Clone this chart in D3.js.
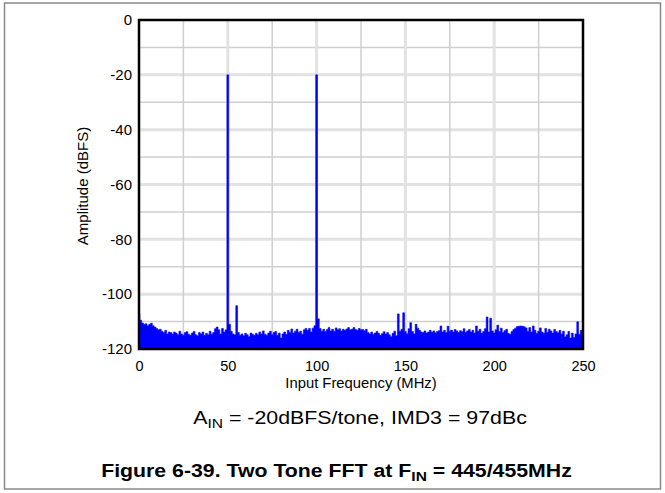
<!DOCTYPE html>
<html>
<head>
<meta charset="utf-8">
<script src="https://cdn.jsdelivr.net/npm/d3@7"></script>
<style>
  html, body { margin: 0; padding: 0; background: #fff; }
  svg { display: block; font-family: "Liberation Sans", Arial, sans-serif; }
</style>
</head>
<body>
<svg id="chart" width="665" height="493"></svg>
<script>
// ---- data ----
const binStartMHz = 0;
const binWidthMHz = 1;
const amplitudeDBFS = [
  -107, -109.5, -110.5, -111, -110.8, -111.5, -111, -110.6, -111.5, -112,
  -112.5, -113, -112.8, -113.5, -114, -113.2, -114.5, -113.8, -114, -114.5,
  -113.8, -114.2, -114.8, -113.5, -114.5, -115, -114, -113.7, -114.6, -115,
  -114.2, -113.6, -114.8, -115.2, -114, -114.5, -113.8, -115, -114.3, -114.8,
  -113.5, -114.6, -114, -112.6, -112, -113, -114.5, -112.5, -113.8, -113,
  -20,
  -111, -113.5, -114.5, -114.8, -104.2, -114, -115, -114.5, -115.2,
  -114.3, -114.8, -115.5, -114.2, -114.6, -115, -114.3, -114.8, -113.8, -114.5,
  -113.4, -114.6, -115, -114.2, -113.5, -114.8, -114, -113.6, -115, -114.2,
  -116, -114.5, -113.8, -114.6, -113.2, -114, -112.7, -114.2, -113.5, -112.8,
  -114, -113.5, -114.6, -113, -112.5, -113.2, -112.5, -113.8, -112.4, -111.5,
  -20,
  -109, -112.5, -113.5, -112.8, -113.6, -112.9, -112.2, -113.4, -112.8,
  -113.5, -112.3, -113, -112.6, -113.4, -112.8, -113.2, -112.7, -112.2, -113,
  -112.8, -112.2, -112.9, -113.2, -112.5, -113, -112.9, -113.3, -112.8, -114,
  -114.5, -113.8, -114.6, -114.2, -113.6, -114.3, -115, -114.4, -113.7, -114.5,
  -114, -114.8, -115.5, -114.3, -113.5, -115.2, -107.2, -113.5, -112.8, -106.8,
  -113.6, -114.4, -112.6, -110.4, -113.6, -114.5, -111, -112.4, -113.2, -113.8,
  -114, -113.4, -114.2, -113.8, -113.2, -113.9, -113.4, -114.1, -113.6, -113.3,
  -111.6, -113.8, -113.2, -114, -111.7, -113.5, -113.1, -113.8, -112.9, -113.4,
  -114, -113.3, -113.7, -112.6, -113.9, -113.4, -112.9, -113.8, -113.2, -114.2,
  -111.6, -113.5, -112.8, -114.3, -113.6, -112.6, -108.3, -113.8, -108.8, -113.4,
  -114.2, -113, -111.3, -113.6, -112.4, -114, -113.3, -112.8, -114.3, -114.6,
  -113.6, -112.9, -112.4, -111.8, -111.7, -111.6, -111.7, -111.9, -112.3, -113.5,
  -112.2, -113.8, -111.6, -113.2, -114.3, -113.5, -112.3, -113.8, -114.3, -112.5,
  -113.9, -112.8, -113.4, -114.2, -112.9, -113.6, -114.1, -113.2, -114.5, -113.5,
  -115.5, -114.8, -113.6, -116, -114.2, -115.8, -114.5, -110.1, -114.6, -113.2,
  -113.5
];
const xTicks = [0, 50, 100, 150, 200, 250];
const xGrid = [25, 50, 75, 100, 125, 150, 175, 200, 225];
const yTicks = [0, -20, -40, -60, -80, -100, -120];
const yGrid = [-10, -20, -30, -40, -50, -60, -70, -80, -90, -100, -110];
const xTitle = "Input Frequency (MHz)";
const yTitle = "Amplitude (dBFS)";

// ---- layout ----
const svg = d3.select("#chart");
const m = { left: 139, top: 20, right: 583, bottom: 349 };
const x = d3.scaleLinear().domain([0, 250]).range([m.left, m.right]);
const y = d3.scaleLinear().domain([-120, 0]).range([m.bottom, m.top]);

// outer frame
svg.append("rect").attr("x", 4.5).attr("y", 3).attr("width", 656).attr("height", 486)
  .attr("fill", "none").attr("stroke", "#8a8a8a").attr("stroke-width", 1.5);

// grid
svg.append("g").selectAll("line").data(yGrid).join("line")
  .attr("x1", m.left).attr("x2", m.right)
  .attr("y1", d => y(d)).attr("y2", d => y(d))
  .attr("stroke", d => d % 20 === 0 ? "#e2e2e2" : "#cfcfcf")
  .attr("stroke-width", d => d % 20 === 0 ? 3 : 1.5);
svg.append("g").selectAll("line").data(xGrid).join("line")
  .attr("y1", m.top).attr("y2", m.bottom)
  .attr("x1", d => x(d)).attr("x2", d => x(d))
  .attr("stroke", d => d % 50 === 0 ? "#e2e2e2" : "#cfcfcf")
  .attr("stroke-width", d => d % 50 === 0 ? 3 : 1.5);

// spectrum
const data = amplitudeDBFS.map((a, i) => ({ f: binStartMHz + i * binWidthMHz, a }));
const area = d3.area().curve(d3.curveStep)
  .x(d => x(d.f)).y0(y(-120)).y1(d => y(d.a));
svg.append("path").datum(data).attr("d", area)
  .attr("fill", "#0000ff").attr("stroke", "#0000ff").attr("stroke-width", 0.6);

// plot border
svg.append("rect").attr("x", m.left).attr("y", m.top)
  .attr("width", m.right - m.left).attr("height", m.bottom - m.top)
  .attr("fill", "none").attr("stroke", "#000").attr("stroke-width", 2.5);

// axes labels
const yAxis = d3.axisLeft(y).tickValues(yTicks).tickSize(0).tickPadding(7).tickFormat(d => String(d));
const gy = svg.append("g").attr("transform", `translate(${m.left},0)`).call(yAxis);
gy.select(".domain").remove();
gy.selectAll("text").attr("font-size", 15).attr("fill", "#000")
  .attr("font-family", "Liberation Sans, Arial, sans-serif");

const xAxis = d3.axisBottom(x).tickValues(xTicks).tickSize(0).tickPadding(12).tickFormat(d => String(d));
const gx = svg.append("g").attr("transform", `translate(0,${m.bottom})`).call(xAxis);
gx.select(".domain").remove();
gx.selectAll("text").attr("font-size", 14.5).attr("fill", "#000")
  .attr("font-family", "Liberation Sans, Arial, sans-serif");

svg.append("text").attr("x", 361).attr("y", 388)
  .attr("text-anchor", "middle").attr("font-size", 14.8).text(xTitle);

svg.append("text").attr("transform", `translate(88,186) rotate(-90)`)
  .attr("text-anchor", "middle").attr("font-size", 15).text(yTitle);

// annotation (horizontally fitted to the reference width)
function fitted(cx, baseline, targetW, build) {
  const g = svg.append("g");
  const t = g.append("text").attr("text-anchor", "middle");
  build(t);
  const w = t.node().getBBox().width;
  g.attr("transform", `translate(${cx},${baseline}) scale(${targetW / w},1)`);
}
fitted(360, 424, 334, t => {
  t.attr("font-size", 18.5);
  t.append("tspan").text("A");
  t.append("tspan").attr("font-size", 13.5).attr("dy", 4).text("IN");
  t.append("tspan").attr("dy", -4).text(" = -20dBFS/tone, IMD3 = 97dBc");
});

// caption
fitted(336.5, 477, 471, t => {
  t.attr("font-size", 18.5).attr("font-weight", "bold");
  t.append("tspan").text("Figure 6-39. Two Tone FFT at F");
  t.append("tspan").attr("font-size", 13.5).attr("dy", 4).text("IN");
  t.append("tspan").attr("dy", -4).text(" = 445/455MHz");
});
</script>
</body>
</html>
